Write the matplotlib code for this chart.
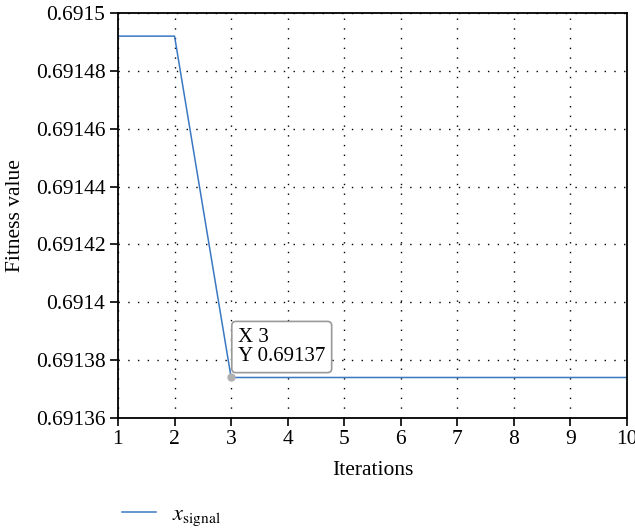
import matplotlib
matplotlib.use("Agg")
import matplotlib.pyplot as plt

plt.rcParams['font.family'] = ['Liberation Serif', 'DejaVu Serif']
plt.rcParams['mathtext.fontset'] = 'stix'

# data
iterations = [1, 2, 3, 4, 5, 6, 7, 8, 9, 10]
fitness = [0.691492, 0.691492, 0.691374, 0.691374, 0.691374,
           0.691374, 0.691374, 0.691374, 0.691374, 0.691374]
yticks = [0.69136, 0.69138, 0.6914, 0.69142, 0.69144, 0.69146, 0.69148, 0.6915]
ytick_labels = ['0.69136', '0.69138', '0.6914', '0.69142', '0.69144', '0.69146', '0.69148', '0.6915']

fig = plt.figure(figsize=(6.35, 5.32), dpi=100)
ax = fig.add_axes([0.1858, 0.2143, 0.8016, 0.7613])

line, = ax.plot(iterations, fitness, color='#3a78c3', lw=1.1, label=r'$x_{\mathrm{signal}}$')

ax.set_xlim(1, 10)
ax.set_ylim(0.69136, 0.6915)
ax.set_xticks(iterations)
ax.set_yticks(yticks)
ax.set_yticklabels(ytick_labels)
ax.grid(True, color='black', linestyle=(0, (1, 6)), linewidth=1.0)
ax.tick_params(direction='out', length=6, width=1.2, labelsize=15.5, colors='black', pad=3)
for s in ax.spines.values():
    s.set_linewidth(1.3)

ax.set_xlabel('Iterations', fontsize=15.5, labelpad=8)
ax.set_ylabel('Fitness value', fontsize=15.5, labelpad=8)

# data tip
px, py = iterations[2], fitness[2]
ax.plot([px], [py], 'o', color='#b0b0b0', ms=5, zorder=5)
ax.annotate('X 3\nY 0.69137', xy=(px, py), xytext=(5, 8), textcoords='offset points',
            fontsize=15, va='bottom', ha='left', linespacing=1.05,
            bbox=dict(boxstyle='round,pad=0.3,rounding_size=0.2', fc='white', ec='#999999', lw=1.2))

fig.legend(handles=[line], loc='center left', bbox_to_anchor=(0.16, 0.03), frameon=False,
           fontsize=16, handlelength=1.55, handletextpad=0.7)

fig.savefig('out.png', dpi=100)
